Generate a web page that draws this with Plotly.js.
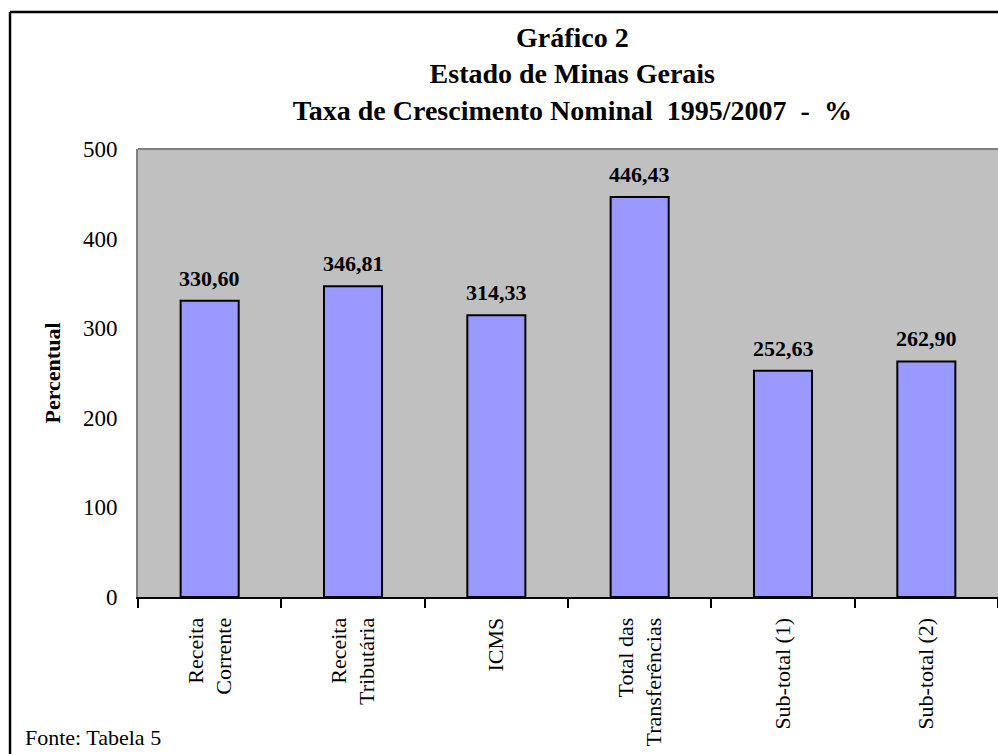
<!DOCTYPE html>
<html>
<head>
<meta charset="utf-8">
<script src="https://cdn.plot.ly/plotly-3.0.1.min.js"></script>
<style>
  html, body { margin: 0; padding: 0; background: #ffffff; }
  #chart { width: 998px; height: 754px; }
</style>
</head>
<body>
<div id="chart"></div>
<script>
const categories = [
  "Receita<br>Corrente",
  "Receita<br>Tributária",
  "ICMS",
  "Total das<br>Transferências",
  "Sub-total (1)",
  "Sub-total (2)"
];
const values = [330.60, 346.81, 314.33, 446.43, 252.63, 262.90];
const yTicks = [0, 100, 200, 300, 400, 500];

const SERIF = "Liberation Serif, Times New Roman, serif";

const trace = {
  type: "bar",
  x: categories,
  y: values,
  marker: { color: "#9999FF", line: { color: "#000000", width: 2 } },
  hoverinfo: "skip"
};

const valueLabels = categories.map((c, i) => ({
  x: c, y: values[i], xref: "x", yref: "y",
  text: values[i].toFixed(2).replace(".", ","),
  xanchor: "center", yanchor: "bottom", yshift: 8,
  showarrow: false,
  font: { family: SERIF, size: 22, color: "#000000", weight: "bold" }
}));

const layout = {
  width: 998,
  height: 754,
  separators: ",.",
  paper_bgcolor: "#ffffff",
  plot_bgcolor: "#C0C0C0",
  margin: { l: 138, r: 0, t: 149, b: 157, pad: 0 },
  bargap: 0.595,
  showlegend: false,
  font: { family: SERIF, color: "#000000" },
  title: {
    text: "Gráfico 2<br>Estado de Minas Gerais<br>Taxa de Crescimento Nominal  1995/2007  -  %",
    font: { family: SERIF, size: 28, color: "#000000", weight: "bold" },
    xref: "paper", x: 0.505, xanchor: "center",
    yref: "container", y: 0.938, yanchor: "top"
  },
  xaxis: {
    type: "category",
    tickson: "boundaries",
    ticks: "outside",
    ticklen: 9,
    tickwidth: 2,
    tickcolor: "#000000",
    showline: true,
    linecolor: "#000000",
    linewidth: 2,
    showgrid: false,
    tickangle: -90,
    ticklabelstandoff: 10,
    tickfont: { family: SERIF, size: 22, color: "#000000" }
  },
  yaxis: {
    range: [0, 500],
    tickvals: yTicks,
    ticktext: yTicks.map(String),
    showgrid: false,
    zeroline: false,
    showline: true,
    linecolor: "#808080",
    linewidth: 2,
    ticks: "",
    ticklabelstandoff: 14,
    tickfont: { family: SERIF, size: 23, color: "#000000" },
    title: {
      text: "Percentual",
      font: { family: SERIF, size: 22, color: "#000000", weight: "bold" },
      standoff: 16
    }
  },
  shapes: [
    { type: "line", xref: "paper", yref: "paper", x0: 0, x1: 1.01, y0: 1, y1: 1,
      line: { color: "#808080", width: 2 } },
    { type: "line", xref: "paper", yref: "paper", x0: -0.1488, x1: -0.1488, y0: 1.306, y1: -0.5,
      line: { color: "#000000", width: 2.5 } },
    { type: "line", xref: "paper", yref: "paper", x0: -0.1488, x1: 1.2, y0: 1.306, y1: 1.306,
      line: { color: "#000000", width: 2.5 } }
  ],
  annotations: valueLabels.concat([
    { text: "Fonte: Tabela 5", xref: "paper", yref: "paper",
      x: -0.1337, y: -0.3147, xanchor: "left", yanchor: "middle",
      showarrow: false, font: { family: SERIF, size: 22, color: "#000000" } }
  ])
};

Plotly.newPlot("chart", [trace], layout, { displayModeBar: false, staticPlot: true });
</script>
</body>
</html>
